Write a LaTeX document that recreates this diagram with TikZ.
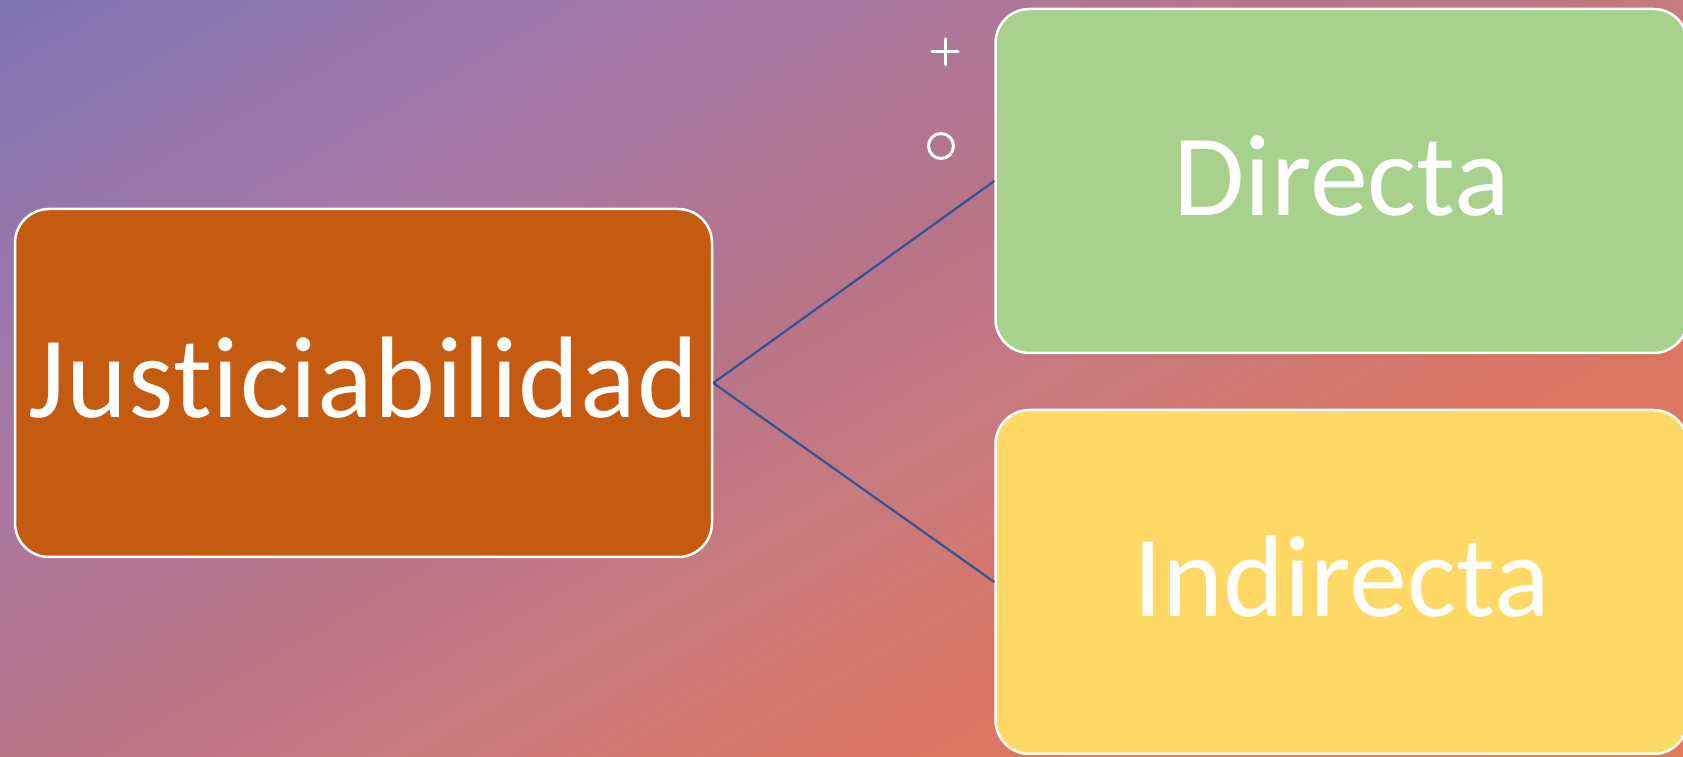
\documentclass[tikz,border=0pt]{standalone}
\usepackage{fontspec}
\setmainfont{Carlito}[Ligatures=NoCommon]
\usetikzlibrary{positioning}

\definecolor{naranja}{HTML}{C55A11}
\definecolor{verde}{HTML}{A9D18E}
\definecolor{amarillo}{HTML}{FFD966}
\definecolor{azullinea}{HTML}{2F5597}

% Background ramp, purple to pink to orange (25bp..75bp is the page)
\pgfdeclarehorizontalshading{fondo}{100bp}{%
  rgb(0bp)=(0.494,0.455,0.702); rgb(25bp)=(0.494,0.455,0.702);
  rgb(36.7bp)=(0.647,0.471,0.659); rgb(46.9bp)=(0.718,0.455,0.533);
  rgb(53.1bp)=(0.780,0.478,0.502); rgb(61.1bp)=(0.855,0.459,0.388);
  rgb(75bp)=(0.878,0.482,0.357); rgb(100bp)=(0.878,0.482,0.357)}

\begin{document}
\begin{tikzpicture}[x=1pt, y=1pt,
    bloque/.style={draw=white, line width=2.5pt, rounded corners=34pt,
      inner sep=0pt, text=white, text height=70pt, text depth=0pt,
      font=\fontsize{116}{130}\selectfont},
    enlace/.style={draw=azullinea, line width=2.2pt}]
            % Page frame, everything outside is cut off
            \useasboundingbox (0,0) rectangle (1683,757);
            \clip (0,0) rectangle (1683,757);

            % Diagonal background, purple top left to orange bottom right
            \begin{scope}[transform canvas={rotate=-60}]
                \shade[shading=fondo] (-656,0) rectangle (842,1836);
            \end{scope}

            % Main box and the two branches
            \node[bloque, fill=naranja, minimum width=697pt, minimum height=348pt]
              (justicia) at (363.5,374) {\addfontfeature{LetterSpace=0.8}Justiciabilidad};
            \node[bloque, fill=verde, minimum width=692pt, minimum height=344pt]
              (directa) at (1341.5,576) {Directa};
            \node[bloque, fill=amarillo, minimum width=692pt, minimum height=344pt]
              (indirecta) at (1341.5,175) {Indirecta};

            % Connectors
            \draw[enlace] (justicia.east) -- (directa.west);
            \draw[enlace] (justicia.east) -- (indirecta.west);

            % Small plus and ring marks beside the top box
            \draw[white, line width=3pt, line cap=round] (932,705) -- (958,705);
            \draw[white, line width=3pt, line cap=round] (945,692) -- (945,718);
            \draw[white, line width=3pt] (941,611) circle (12.5);
        \end{tikzpicture}
\end{document}
